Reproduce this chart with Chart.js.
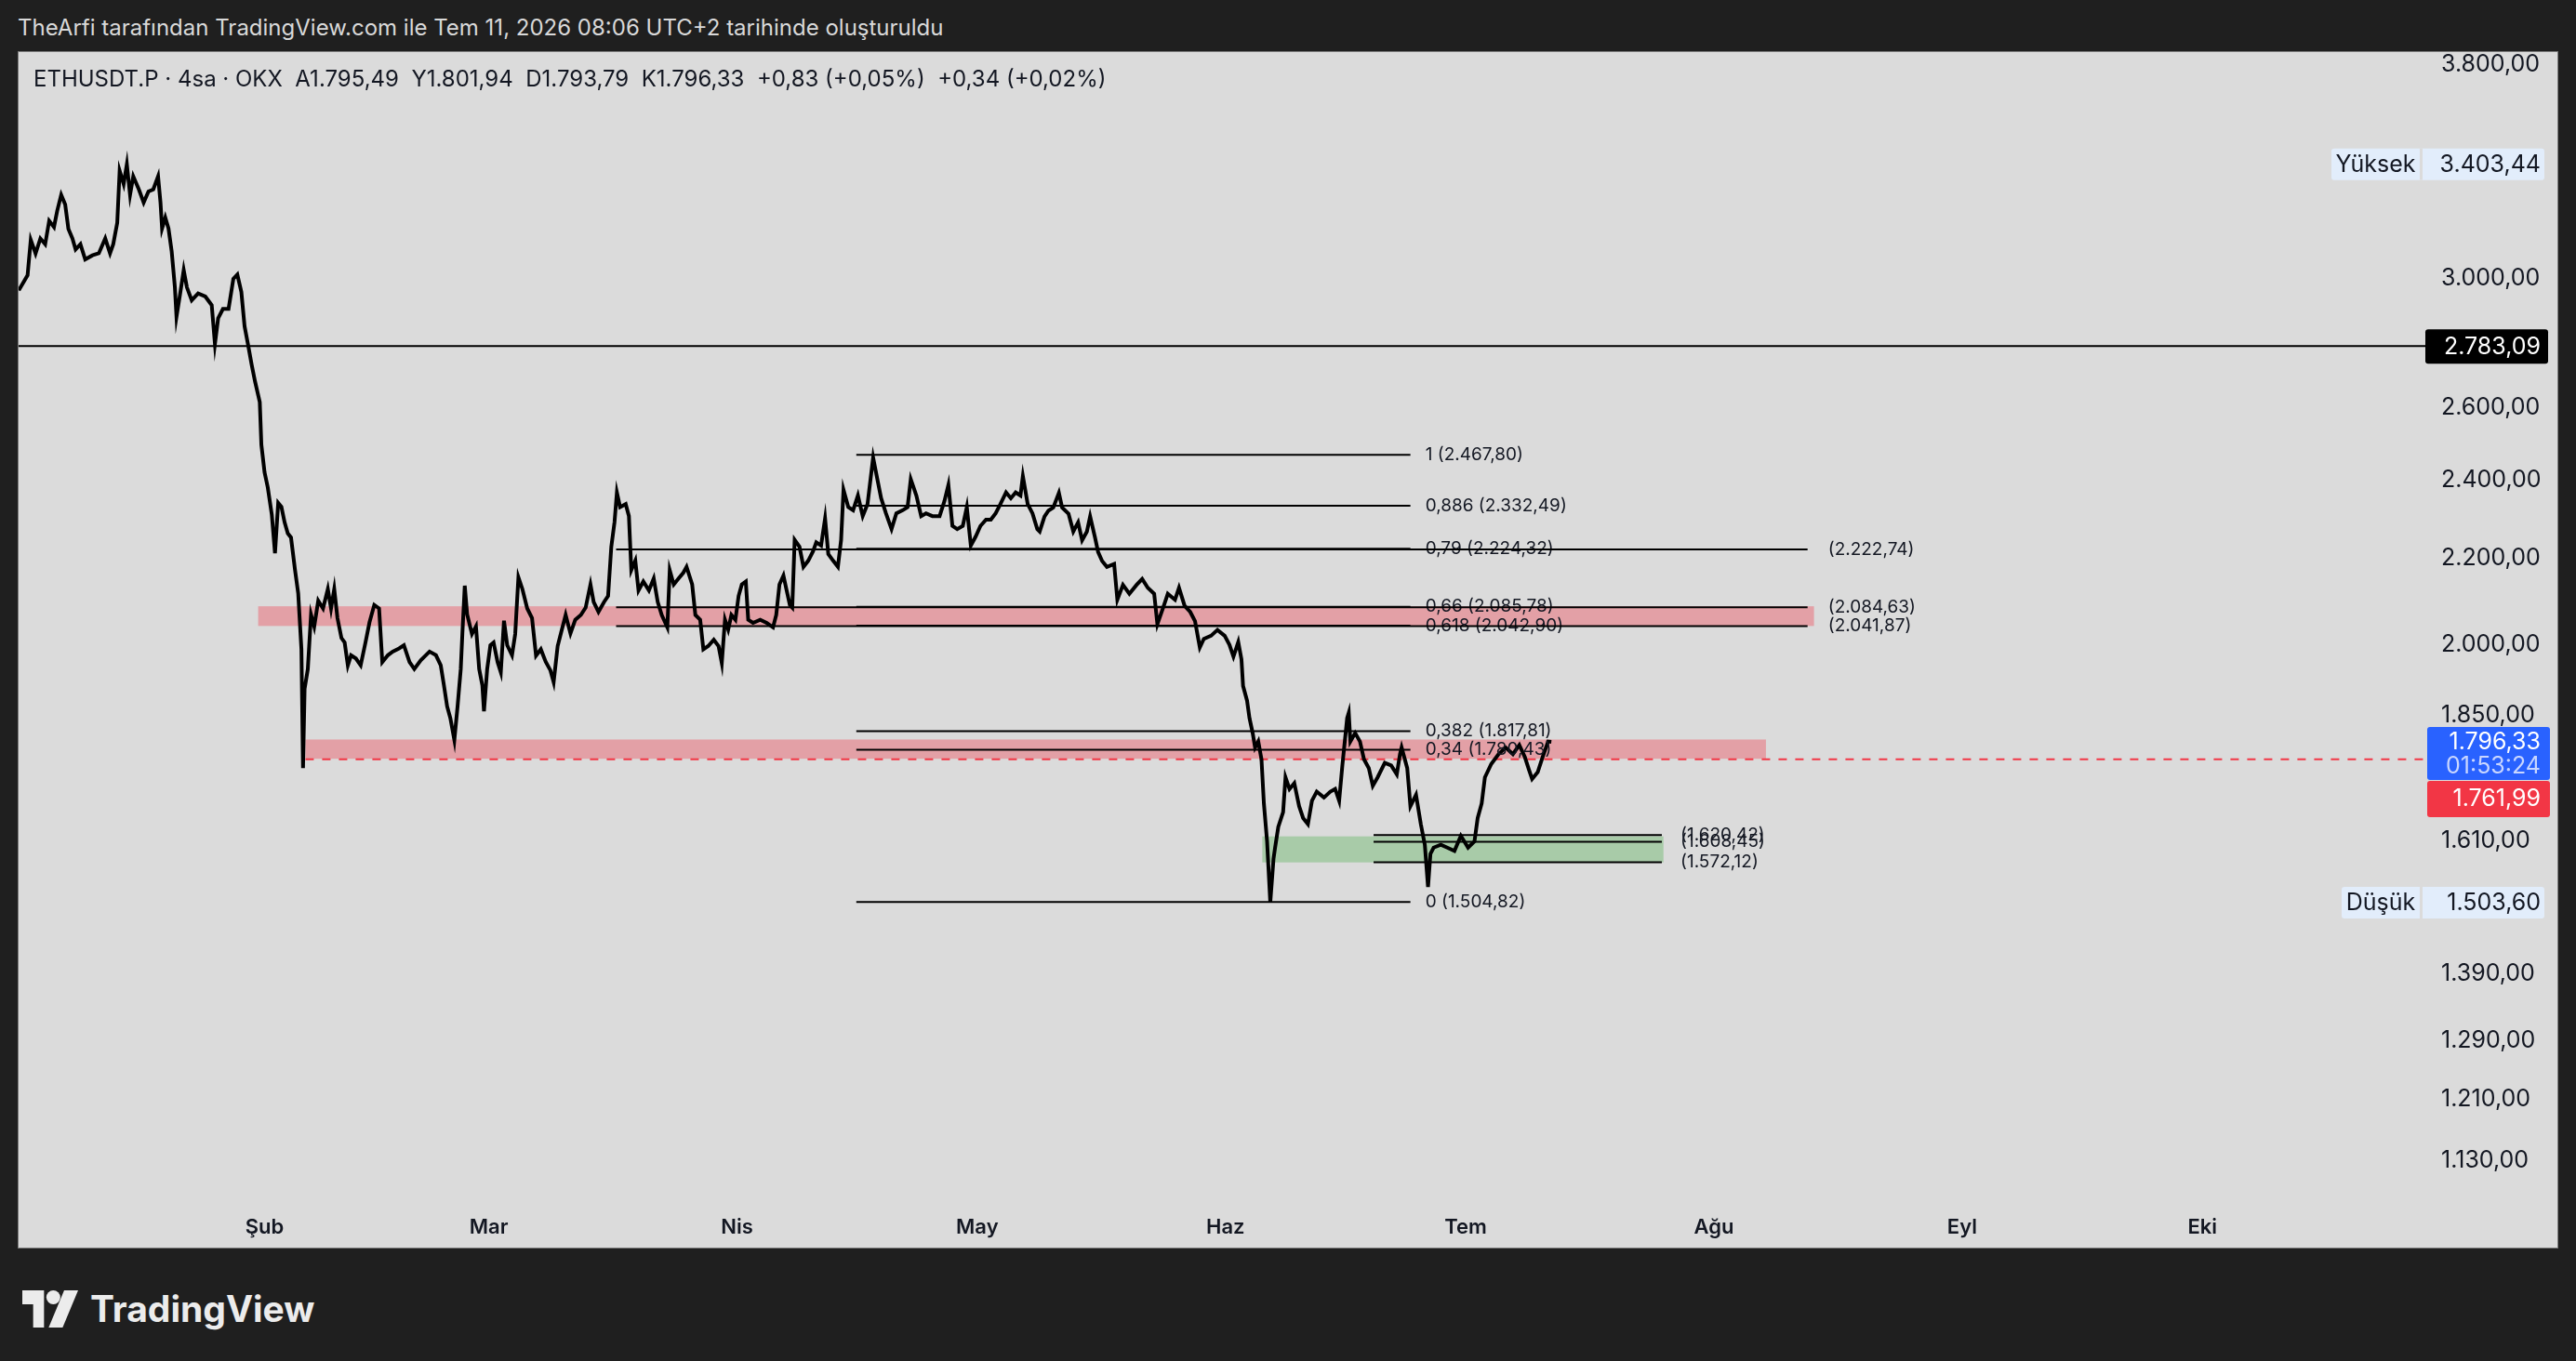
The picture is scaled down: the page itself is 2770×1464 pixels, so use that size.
<!DOCTYPE html>
<html lang="tr">
<head>
<meta charset="UTF-8">
<title>ETHUSDT.P · 4sa · OKX</title>
<script src="https://cdn.jsdelivr.net/npm/chart.js"></script>
<style>
  html, body { margin: 0; padding: 0; width: 2770px; height: 1464px; overflow: hidden; background: #1f1f1f; font-family: Inter, "Noto Sans", sans-serif; }
  #ust { position: absolute; left: 19px; top: 15px; color: #d9d9d9; font-size: 24px; }
  #panel { position: absolute; left: 19px; top: 55px; width: 2730px; height: 1286px; background: #dbdbdb; border: 1px solid #7a7a7a; }
  #sembol { position: absolute; left: 16px; top: 14px; font-size: 24px; color: #131722; z-index: 2; white-space: pre; }
  #kutu { position: absolute; left: 0; top: 0; width: 2730px; height: 1286px; }
  #logo { position: absolute; left: 23px; top: 1384px; display: flex; align-items: center; gap: 12px; color: #ececec; font-weight: 700; font-size: 39px; }
</style>
</head>
<body>
<div id="ust">TheArfi tarafından TradingView.com ile Tem 11, 2026 08:06 UTC+2 tarihinde oluşturuldu</div>
<div id="panel">
  <div id="sembol">ETHUSDT.P · 4sa · OKX  A1.795,49  Y1.801,94  D1.793,79  K1.796,33  +0,83 (+0,05%)  +0,34 (+0,02%)</div>
  <div id="kutu"><canvas id="grafik"></canvas></div>
</div>
<div id="logo">
  <svg width="62" height="40" viewBox="0 0 36 24">
    <path d="M0 0H14V24H7V9H0Z" fill="#ececec"/>
    <circle cx="20" cy="4.5" r="4.5" fill="#ececec"/>
    <path d="M27 0H36L26 24H17Z" fill="#ececec"/>
  </svg>
  <span>TradingView</span>
</div>

<script>
// gün = 1 Ocak 2026'dan beri geçen gün sayısı
const priceDays = [
  0.3,1.4,1.8,2.4,3.0,3.6,4.1,4.7,5.1,5.6,
  6.1,6.5,7.0,7.4,8.0,8.6,9.5,10.3,11.1,11.7,
  12.1,12.6,12.9,13.4,13.8,14.2,14.6,15.3,15.9,16.5,
  17.1,17.7,18.0,18.2,18.6,19.0,19.4,19.8,20.0,20.4,
  20.9,21.3,21.9,22.7,23.6,24.4,24.8,25.2,25.8,26.5,
  27.1,27.6,28.1,28.5,28.9,29.4,29.8,30.4,30.6,31.0,
  31.4,31.9,32.3,32.7,33.1,33.5,33.9,34.3,34.8,35.2,
  35.6,35.8,36.0,36.4,36.8,37.2,37.7,38.3,38.9,39.3,
  39.7,40.1,40.6,41.0,41.4,41.8,42.4,43.0,43.6,44.1,
  44.7,45.3,45.7,46.4,47.0,47.8,48.4,49.1,49.7,50.5,
  51.6,52.4,53.0,53.4,53.8,54.2,54.7,55.1,55.5,55.7,
  56.0,56.3,56.9,57.4,57.8,58.2,58.4,58.8,59.2,59.6,
  60.1,60.5,60.9,61.3,61.9,62.3,62.7,63.2,63.8,64.4,
  64.9,65.5,66.1,66.7,67.1,67.6,68.0,68.6,69.2,69.8,
  70.5,71.1,71.7,72.1,72.7,73.4,73.9,74.3,74.7,75.0,
  75.4,76.1,76.5,76.8,77.3,77.7,78.3,79.0,79.6,80.1,
  80.6,81.3,81.6,82.1,82.7,83.3,83.7,84.4,84.8,85.4,
  85.8,86.4,87.1,87.7,88.1,88.5,88.9,89.3,89.8,90.2,
  90.6,91.1,91.4,92.0,92.9,93.7,94.5,94.9,95.3,95.8,
  96.2,96.6,96.9,97.2,97.8,98.3,98.9,99.5,99.9,100.5,
  101.0,101.4,102.0,102.6,103.0,103.3,103.9,104.5,105.1,105.7,
  106.3,107.0,107.6,108.0,108.6,109.3,109.9,110.7,111.3,111.7,
  112.4,113.0,113.6,114.4,115.3,115.9,116.4,116.9,117.5,118.2,
  118.7,119.2,119.8,120.4,121.1,121.7,122.3,122.9,123.6,124.2,
  124.8,125.4,125.7,126.3,126.9,127.5,127.8,128.4,128.9,129.5,
  130.2,130.6,131.4,132.0,132.6,133.1,133.7,134.1,134.7,135.1,
  135.6,136.2,137.1,137.5,138.2,139.0,139.9,140.6,141.3,142.1,
  142.5,143.3,143.8,144.7,145.2,145.9,146.6,147.2,147.8,148.3,
  149.2,150.0,150.9,151.5,152.0,152.6,153.0,153.2,153.7,154.0,
  154.4,154.7,155.1,155.5,155.8,156.2,156.6,157.0,157.2,157.6,
  158.2,158.5,159.0,159.6,160.2,160.7,161.3,161.8,162.4,163.3,
  164.1,164.7,165.2,165.6,166.2,166.4,166.6,167.2,167.8,168.3,
  168.9,169.4,170.0,170.9,171.7,172.4,172.8,173.0,173.7,174.1,
  174.8,175.4,175.9,176.3,176.6,177.0,177.9,178.7,179.6,180.4,
  181.3,182.1,182.5,183.0,183.4,184.2,185.1,186.0,186.9,187.7,
  188.4,188.9,189.3,190.0,190.6,191.3,191.7
];
const priceValues = [
  2960,3010,3130,3083,3135,3115,3197,3175,3232,3290,
  3255,3168,3135,3097,3115,3063,3077,3084,3135,3084,
  3115,3190,3379,3330,3403,3290,3358,3310,3262,3302,
  3310,3358,3262,3170,3208,3170,3090,2970,2875,2940,
  3027,2970,2928,2950,2940,2912,2790,2870,2900,2900,
  2998,3012,2955,2845,2792,2725,2677,2616,2495,2420,
  2380,2310,2213,2340,2330,2290,2262,2252,2173,2117,
  1990,1745,1905,1947,2068,2041,2100,2082,2127,2082,
  2127,2060,2015,2005,1955,1977,1970,1955,2005,2050,
  2090,2082,1962,1977,1985,1992,1999,1962,1947,1966,
  1985,1977,1955,1912,1868,1844,1800,1868,1947,2024,
  2135,2068,2024,2041,1947,1912,1858,1947,1999,2005,
  1962,1940,2054,1999,1977,2024,2155,2127,2082,2060,
  1976,1990,1963,1944,1919,1997,2025,2067,2025,2056,
  2067,2084,2138,2097,2074,2097,2111,2229,2290,2367,
  2329,2337,2306,2172,2195,2124,2145,2124,2152,2097,
  2067,2039,2172,2138,2152,2166,2180,2138,2067,2056,
  1990,1997,2011,1997,1960,2056,2034,2067,2056,2111,
  2138,2145,2056,2049,2056,2049,2039,2067,2138,2159,
  2124,2090,2084,2246,2229,2180,2195,2218,2240,2232,
  2300,2211,2195,2180,2246,2374,2329,2321,2359,2306,
  2337,2460,2394,2352,2313,2273,2313,2321,2329,2402,
  2359,2306,2313,2306,2306,2344,2387,2281,2273,2281,
  2329,2232,2254,2281,2297,2297,2313,2337,2367,2352,
  2367,2359,2410,2337,2313,2273,2267,2305,2320,2328,
  2366,2328,2312,2267,2290,2245,2267,2305,2253,2216,
  2194,2180,2187,2102,2137,2116,2137,2151,2130,2116,
  2046,2088,2116,2102,2130,2088,2074,2053,1994,2013,
  2020,2033,2020,2000,1974,2006,1968,1911,1880,1844,
  1814,1785,1797,1762,1678,1609,1504,1578,1598,1635,
  1662,1727,1705,1716,1673,1651,1640,1683,1700,1689,
  1700,1705,1683,1750,1844,1855,1797,1814,1797,1762,
  1745,1711,1727,1755,1750,1733,1772,1785,1745,1673,
  1694,1640,1603,1530,1587,1598,1603,1598,1592,1619,
  1598,1609,1651,1678,1727,1753,1772,1785,1772,1790,
  1766,1742,1724,1737,1766,1797,1796.33
];

// eksenler
const yTicks = [1130, 1210, 1290, 1390, 1610, 1850, 2000, 2200, 2400, 2600, 3000, 3800];
const monthDays = [31, 59, 90, 120, 151, 181, 212, 243, 273];
const monthLabels = ['Şub', 'Mar', 'Nis', 'May', 'Haz', 'Tem', 'Ağu', 'Eyl', 'Eki'];

// fibonacci düzeltmesi
const fibRatios = ['1', '0,886', '0,79', '0,66', '0,618', '0,382', '0,34', '0'];
const fibPrices = [2467.80, 2332.49, 2224.32, 2085.78, 2042.90, 1817.81, 1780.43, 1504.82];
const fibSpan = [104.9, 174.1];

// yatay ışınlar ve kutu çizgileri
const rayPrices = [2222.74, 2084.63, 2041.87];
const raySpan = [74.9, 223.7];
const boxLinePrices = [1620.42, 1608.45, 1572.12];
const boxLineSpan = [169.5, 205.5];

// bölgeler
const zoneFrom = [30.2, 36.1, 155.6];
const zoneTo = [224.5, 218.5, 205.7];
const zoneHigh = [2087, 1801, 1618];
const zoneLow = [2042, 1763, 1572];

// seviyeler
const keyLevel = 2783.09;
const alertLevel = 1761.99;
const alertFrom = 36.1;
const lastPrice = 1796.33;
const highPrice = 3403.44;
const lowPrice = 1503.60;

function trNum(v) {
  const parts = v.toFixed(2).split('.');
  return parts[0].replace(/\B(?=(\d{3})+(?!\d))/g, '.') + ',' + parts[1];
}

const zoneColors = ['#e3a0a6', '#e3a0a6', '#a8cba8'];
const labelFont = '19px Inter, "Noto Sans", sans-serif';
const axisFont = '25px Inter, "Noto Sans", sans-serif';

function hLine(ctx, x0, x1, py, color, width, dash) {
  ctx.beginPath();
  ctx.setLineDash(dash || []);
  ctx.strokeStyle = color;
  ctx.lineWidth = width;
  ctx.moveTo(x0, py);
  ctx.lineTo(x1, py);
  ctx.stroke();
  ctx.setLineDash([]);
}

function badge(ctx, left, right, top, h, bg) {
  ctx.fillStyle = bg;
  ctx.beginPath();
  ctx.roundRect(left, top, right - left, h, 3);
  ctx.fill();
}

const cizimler = {
  id: 'cizimler',
  beforeDatasetsDraw(chart) {
    const { ctx, chartArea: a, scales: { x, y } } = chart;
    ctx.save();
    ctx.beginPath();
    ctx.rect(a.left, a.top, a.width, a.height);
    ctx.clip();
    zoneFrom.forEach((d, i) => {
      const x0 = x.getPixelForValue(d);
      const x1 = x.getPixelForValue(zoneTo[i]);
      const y0 = y.getPixelForValue(zoneHigh[i]);
      const y1 = y.getPixelForValue(zoneLow[i]);
      ctx.fillStyle = zoneColors[i];
      ctx.fillRect(x0, y0, x1 - x0, y1 - y0);
    });
    hLine(ctx, a.left, a.right, y.getPixelForValue(keyLevel), '#000', 2);
    hLine(ctx, x.getPixelForValue(alertFrom), a.right, y.getPixelForValue(alertLevel), '#f23645', 2, [9, 9]);
    ctx.restore();
  },
  afterDatasetsDraw(chart) {
    const { ctx, scales: { x, y } } = chart;
    ctx.save();
    ctx.font = labelFont;
    ctx.fillStyle = '#131722';
    ctx.textBaseline = 'middle';
    ctx.textAlign = 'left';

    const fx0 = x.getPixelForValue(fibSpan[0]);
    const fx1 = x.getPixelForValue(fibSpan[1]);
    fibPrices.forEach((p, i) => {
      const py = y.getPixelForValue(p);
      hLine(ctx, fx0, fx1, py, '#000', 2);
      ctx.fillText(fibRatios[i] + ' (' + trNum(p) + ')', fx1 + 16, py);
    });

    const rx0 = x.getPixelForValue(raySpan[0]);
    const rx1 = x.getPixelForValue(raySpan[1]);
    rayPrices.forEach(p => {
      const py = y.getPixelForValue(p);
      hLine(ctx, rx0, rx1, py, '#000', 2);
      ctx.fillText('(' + trNum(p) + ')', rx1 + 22, py);
    });

    const bx0 = x.getPixelForValue(boxLineSpan[0]);
    const bx1 = x.getPixelForValue(boxLineSpan[1]);
    boxLinePrices.forEach(p => {
      const py = y.getPixelForValue(p);
      hLine(ctx, bx0, bx1, py, '#000', 2);
      ctx.fillText('(' + trNum(p) + ')', bx1 + 20, py);
    });
    ctx.restore();
  },
  afterDraw(chart) {
    const { ctx, scales: { y } } = chart;
    const L = y.left - 1;
    const R = y.left + 131;
    const textX = y.left + 121;
    ctx.save();
    ctx.font = axisFont;
    ctx.textBaseline = 'middle';
    ctx.textAlign = 'right';

    // 2783,09
    let py = y.getPixelForValue(keyLevel);
    badge(ctx, L - 2, R - 2, py - 18, 37, '#000');
    ctx.fillStyle = '#fff';
    ctx.fillText(trNum(keyLevel), textX, py + 1);

    // son fiyat + geri sayım
    py = y.getPixelForValue(lastPrice);
    const blueTop = py - 16;
    badge(ctx, L, R, blueTop, 57, '#2962ff');
    ctx.fillStyle = '#fff';
    ctx.fillText(trNum(lastPrice), textX, py + 1);
    ctx.fillStyle = '#c9d6ff';
    ctx.fillText('01:53:24', textX, py + 27);

    // alarm seviyesi (etiket aşağı kaydırılmış)
    badge(ctx, L, R, blueTop + 58, 39, '#f23645');
    ctx.fillStyle = '#fff';
    ctx.fillText(trNum(alertLevel), textX, blueTop + 78);

    // Yüksek / Düşük
    [[highPrice, 'Yüksek', y.left - 104], [lowPrice, 'Düşük', y.left - 93]].forEach(([v, txt, lx]) => {
      const cy = y.getPixelForValue(v);
      badge(ctx, lx, y.left + 125, cy - 17, 34, '#e2edfb');
      ctx.fillStyle = '#dbdbdb';
      ctx.fillRect(y.left - 9, cy - 17, 3, 34);
      ctx.fillStyle = '#131722';
      ctx.textAlign = 'center';
      ctx.fillText(txt, (lx + y.left - 9) / 2, cy + 1);
      ctx.textAlign = 'right';
      ctx.fillText(trNum(v), textX, cy + 1);
    });
    ctx.restore();
  }
};

const ctx = document.getElementById('grafik').getContext('2d');
const chart = new Chart(ctx, {
  type: 'line',
  data: {
    datasets: [{
      label: 'ETHUSDT.P',
      data: priceDays.map((d, i) => ({ x: d, y: priceValues[i] })),
      borderColor: '#000',
      borderWidth: 4,
      pointRadius: 0,
      tension: 0
    }]
  },
  options: {
    responsive: true,
    maintainAspectRatio: false,
    animation: false,
    layout: { padding: 0 },
    plugins: { legend: { display: false }, tooltip: { enabled: false } },
    scales: {
      x: {
        type: 'linear',
        min: 0.28,
        max: 301.2,
        grid: { display: false, drawTicks: false },
        border: { display: false },
        afterBuildTicks: s => { s.ticks = monthDays.map(v => ({ value: v })); },
        afterFit: s => { s.height = 43; s.paddingLeft = 0; s.paddingRight = 0; },
        ticks: {
          autoSkip: false,
          maxRotation: 0,
          padding: 8,
          color: '#131722',
          font: { family: 'Inter', size: 22, weight: '600' },
          callback: v => monthLabels[monthDays.indexOf(v)]
        }
      },
      y: {
        type: 'logarithmic',
        position: 'right',
        min: 1073,
        max: 3853,
        grid: { display: false, drawTicks: false },
        border: { display: false },
        afterBuildTicks: s => { s.ticks = yTicks.map(v => ({ value: v })); },
        afterFit: s => { s.width = 139; s.paddingTop = 0; s.paddingBottom = 0; },
        ticks: {
          autoSkip: false,
          crossAlign: 'near',
          padding: 14,
          color: '#131722',
          font: { family: 'Inter', size: 25 },
          callback: v => trNum(v)
        }
      }
    }
  },
  plugins: [cizimler]
});
</script>
</body>
</html>
